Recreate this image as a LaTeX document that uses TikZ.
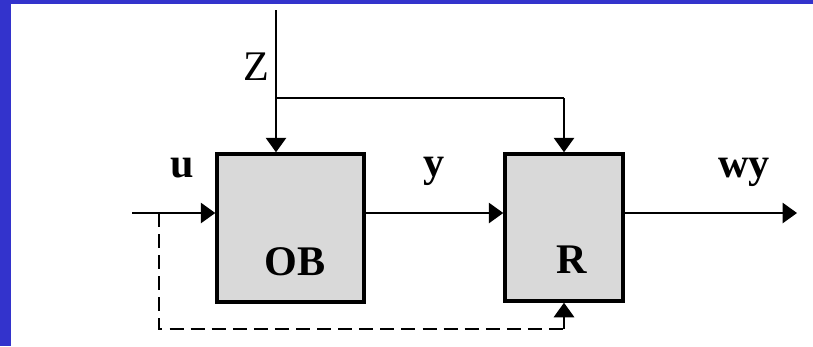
\documentclass[tikz,border=0pt]{standalone}
\usepackage{fontspec}
\setmainfont{Liberation Serif}
\usetikzlibrary{arrows.meta}
\definecolor{tlo}{RGB}{51,51,204}
\definecolor{szary}{RGB}{217,217,217}
\begin{document}
\begin{tikzpicture}[
    x=0.02cm, y=-0.02cm,
    font=\fontsize{24}{28}\selectfont,
    blok/.style={draw=black, fill=szary, line width=2pt, inner sep=0pt},
    napis/.style={inner sep=0pt, font=\fontsize{24}{28}\selectfont\bfseries},
    grot/.style={-{Triangle[length=0.29cm, width=0.41cm]}},
    sygnal/.style={line width=0.8pt, grot},
    zaklocenie/.style={line width=1.6pt},
    sprzezenie/.style={line width=1.3pt, dash pattern=on 8pt off 4pt}
  ]
  % jednostka = 1 piksel obrazka, os y w dol

  % --- tlo: niebieska ramka z lewej i u gory ---
  \fill[tlo] (0,0) rectangle (813,346);
  \fill[white] (11,4) rectangle (813,346);
  \useasboundingbox (0,0) rectangle (813,346);

  % --- bloki ---
  \node[blok, minimum width=2.94cm, minimum height=2.96cm] (ob) at (290.5,228) {};
  \node[blok, minimum width=2.36cm, minimum height=2.94cm] (r) at (564,227.5) {};
  \node[napis] (tob) at (295,262) {OB};
  \node[napis] (tr) at (572,260) {R};

  % --- opisy sygnalow ---
  \node[inner sep=0pt] (tz) at (256,67) {Z};
  \node[napis] (tu) at (182,168) {u};
  \node[napis] (ty) at (434,171) {y};
  \node[napis] (twy) at (744,172) {wy};

  % --- punkty pomocnicze ---
  \coordinate (zgora) at (276,10);
  \coordinate (rozg) at (276,98);
  \coordinate (wej) at (132,213);
  \coordinate (odg) at (159,213);
  \coordinate (wyj) at (797,213);
  \coordinate (dol) at (564,329);

  % --- zaklocenie Z ---
  \draw[sygnal] (zgora) -- (zgora |- ob.north);
  \draw[zaklocenie] (rozg) -- (rozg -| r.north);
  \draw[sygnal] (rozg -| r.north) -- (r.north);

  % --- tor glowny ---
  \draw[sygnal] (wej) -- (wej -| ob.west);
  \draw[sygnal] (ob.east |- wej) -- (r.west |- wej);
  \draw[sygnal] (r.east |- wej) -- (wyj);

  % --- sprzezenie od u ---
  \draw[sprzezenie] (odg) |- (dol);
  \draw[sygnal] (dol) -- (r.south);
\end{tikzpicture}
\end{document}
